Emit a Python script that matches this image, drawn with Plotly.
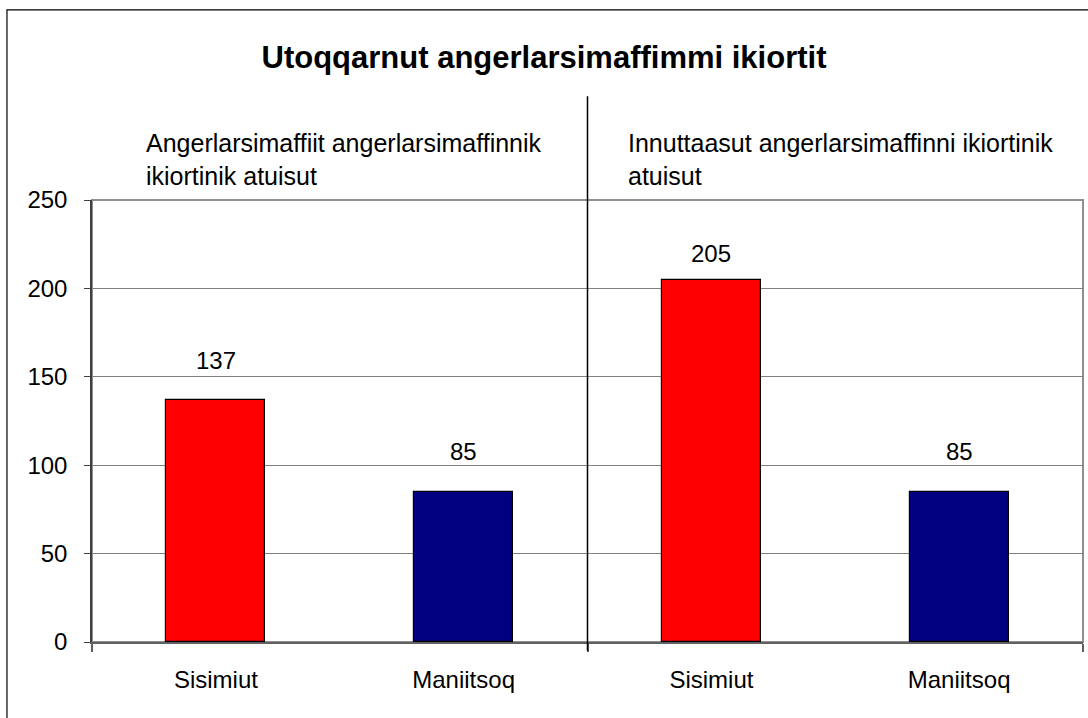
import plotly.graph_objects as go

title = "Utoqqarnut angerlarsimaffimmi ikiortit"
groups = ["Angerlarsimaffiit angerlarsimaffinnik<br>ikiortinik atuisut",
          "Innuttaasut angerlarsimaffinni ikiortinik<br>atuisut"]
categories = ["Sisimiut", "Maniitsoq", "Sisimiut", "Maniitsoq"]
values = [137, 85, 205, 85]
colors = ["#FF0000", "#000080", "#FF0000", "#000080"]
y_ticks = [0, 50, 100, 150, 200, 250]

# style offsets
label_shift = [39, 40, 26, 40]
FONT = "Liberation Sans, Arial, sans-serif"
FS = 25

xpos = list(range(len(categories)))

fig = go.Figure()
fig.add_trace(go.Bar(
    x=xpos, y=values, width=0.4,
    marker=dict(color=colors, line=dict(color="#000000", width=1.2)),
    showlegend=False, hoverinfo="x+y",
))

for i, v in enumerate(values):
    fig.add_annotation(x=xpos[i], y=v, text=str(v), showarrow=False,
                       yanchor="middle", yshift=label_shift[i],
                       font=dict(family=FONT, size=24, color="#000000"))

# group labels
group_x = [-0.29, 1.655]
for gx, g in zip(group_x, groups):
    fig.add_annotation(x=gx, xref="x", y=1.166, yref="paper", text=g,
                       showarrow=False, xanchor="left", yanchor="top", align="left",
                       font=dict(family=FONT, size=FS, color="#000000"))

# divider between groups
fig.add_shape(type="line", xref="x", yref="paper", x0=1.5, x1=1.5,
              y0=-0.02, y1=1.235, line=dict(color="#000000", width=1.5))

# plot area border (gray)
fig.add_shape(type="rect", xref="paper", yref="paper", x0=0, x1=1, y0=0, y1=1,
              line=dict(color="#909090", width=2), layer="below")
# outer chart border
fig.add_shape(type="rect", xref="paper", yref="paper", x0=-0.0858, x1=1.02,
              y0=-0.3, y1=1.43, line=dict(color="#000000", width=1.2))

fig.update_layout(
    width=1088, height=718,
    margin=dict(l=92, r=5, t=200, b=76),
    paper_bgcolor="#FFFFFF", plot_bgcolor="#FFFFFF",
    font=dict(family=FONT, size=FS, color="#000000"),
    title=dict(text="<b>" + title + "</b>", x=0.5, xanchor="center",
               y=0.92, yanchor="middle", yref="container",
               font=dict(family=FONT, size=31, color="#000000")),
    bargap=0,
)
fig.update_xaxes(
    range=[-0.5, 3.5], tickmode="array", tickvals=xpos, ticktext=categories,
    ticks="", showgrid=False, zeroline=False,
    showline=True, linecolor="#606060", linewidth=1.5,
    ticklabelstandoff=15, tickfont=dict(size=24),
    minor=dict(tickmode="array", tickvals=[-0.5, 1.5, 3.5], ticks="outside",
               ticklen=8, tickcolor="#606060", tickwidth=1.5, showgrid=False),
)
fig.update_yaxes(
    range=[0, 250], tickmode="array", tickvals=y_ticks,
    ticks="outside", ticklen=6, tickcolor="#404040", tickwidth=1.2,
    showline=True, linecolor="#404040", linewidth=1.5,
    showgrid=True, gridcolor="#808080", gridwidth=1,
    zeroline=False, ticklabelstandoff=12, tickfont=dict(size=24),
)

fig.write_html("out.html", config={"displayModeBar": False},
               post_script="document.body.style.margin='0';")
